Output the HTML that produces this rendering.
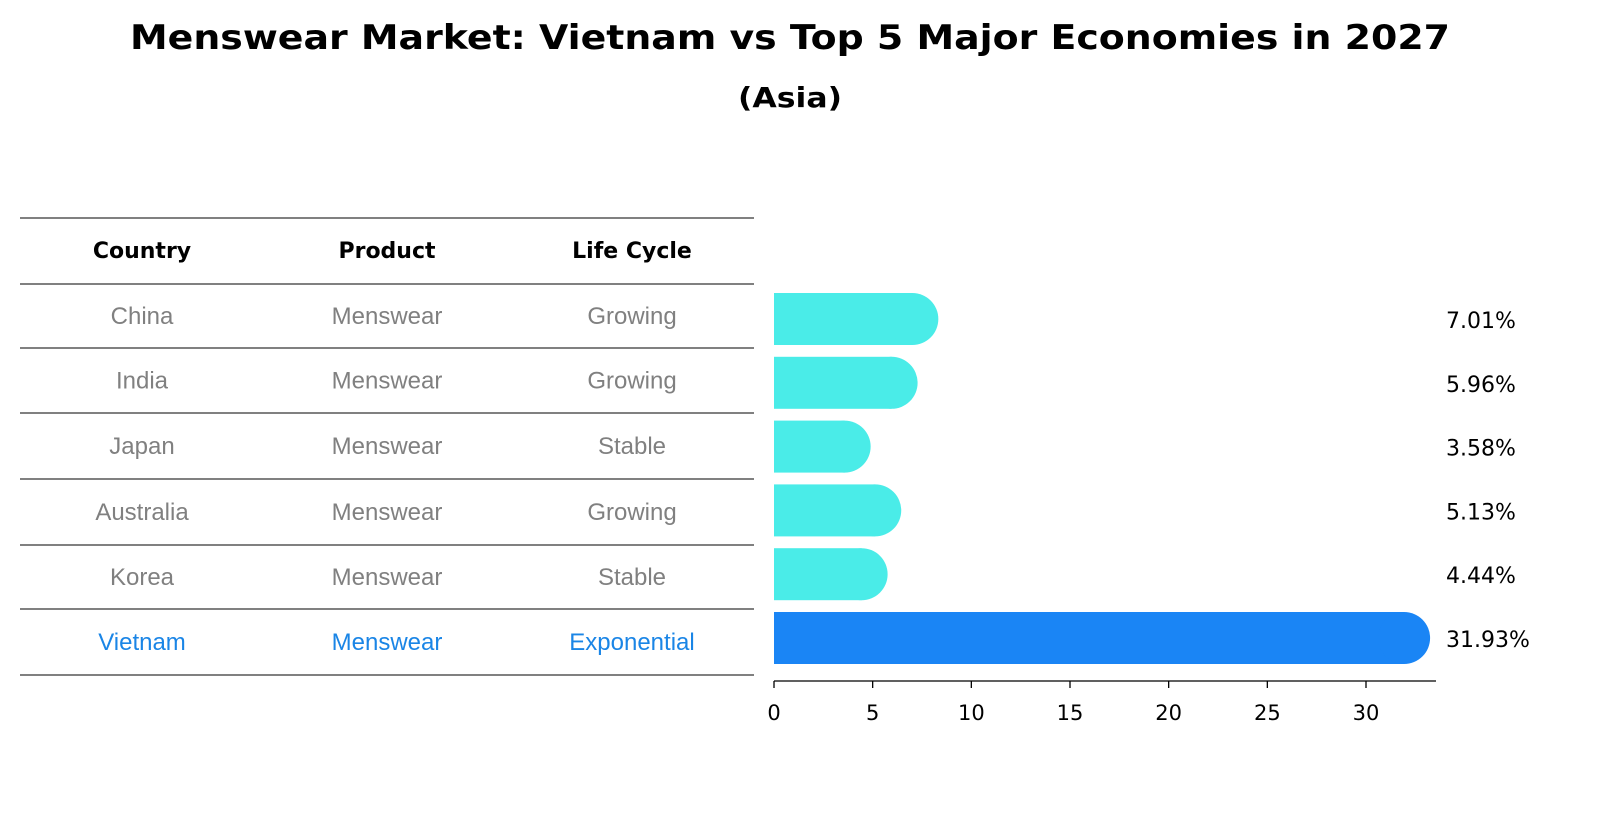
<!DOCTYPE html>
<html><head><meta charset="utf-8"><style>
body{margin:0;background:#fff;font-family:"Liberation Sans","DejaVu Sans",sans-serif}
</style></head><body>
<svg width="1604" height="823" xmlns="http://www.w3.org/2000/svg" font-family="DejaVu Sans, Liberation Sans, sans-serif">
<text x="790" y="49" text-anchor="middle" font-size="34" font-weight="bold" textLength="1320" lengthAdjust="spacingAndGlyphs">Menswear Market: Vietnam vs Top 5 Major Economies in 2027</text>
<text x="790" y="107" text-anchor="middle" font-size="28" font-weight="bold" textLength="104" lengthAdjust="spacingAndGlyphs">(Asia)</text>
<g id="table"></g>
<g id="bars"></g>
<g id="axis"></g>
</svg>
<script>
const countries=["China","India","Japan","Australia","Korea","Vietnam"];
const products=["Menswear","Menswear","Menswear","Menswear","Menswear","Menswear"];
const lifecycles=["Growing","Growing","Stable","Growing","Stable","Exponential"];
const values=[7.01,5.96,3.58,5.13,4.44,31.93];
const tickVals=[0,5,10,15,20,25,30];
const NS="http://www.w3.org/2000/svg";
function mk(t,a,p){const e=document.createElementNS(NS,t);for(const k in a)e.setAttribute(k,a[k]);p.appendChild(e);return e;}
const x0=774,pxPer=592/30;
function xs(v){return x0+v*pxPer;}
const rowY0=319,rowStep=63.8,barH=52;
function ys(i){return rowY0+i*rowStep;}
const tb=document.getElementById('table');
const lines=[218,284,348,413,479,545,609,675];
lines.forEach((y,i)=>{const l=mk('line',{x1:20,x2:754,y1:y,y2:y,stroke:'#000','stroke-width':1},tb);

});
const colX=[142,387,632];
["Country","Product","Life Cycle"].forEach((h,j)=>{const t=mk('text',{x:colX[j],y:258,'text-anchor':'middle','font-size':22,'font-weight':'bold'},tb);t.textContent=h;

});
countries.forEach((c,i)=>{const hl=i===countries.length-1;const col=hl?'#1a85e6':'#808080';
[c,products[i],lifecycles[i]].forEach((s,j)=>{const t=mk('text',{x:colX[j],y:(lines[i+1]+lines[i+2])/2+8,'text-anchor':'middle','font-size':24,fill:col,'font-family':'Liberation Sans, DejaVu Sans, sans-serif'},tb);t.textContent=s;

});});
const bg=document.getElementById('bars');
values.forEach((v,i)=>{const hl=i===values.length-1;const col=hl?'#1a85f5':'#4aece8';const cy=ys(i);
const g=mk('g',{},bg);


mk('rect',{x:x0,y:cy-barH/2,width:xs(v)-x0,height:barH,fill:col},g);
mk('circle',{cx:xs(v),cy:cy,r:barH/2,fill:col},g);
const t=mk('text',{x:1446,y:cy+9,'font-size':22},bg);t.textContent=v.toFixed(2)+'%';

});
const ax=document.getElementById('axis');
mk('line',{x1:x0,x2:1436,y1:681,y2:681,stroke:'#000','stroke-width':1.3},ax);
tickVals.forEach(v=>{mk('line',{x1:xs(v),x2:xs(v),y1:681,y2:688,stroke:'#000','stroke-width':1.3},ax);
const t=mk('text',{x:xs(v),y:720,'text-anchor':'middle','font-size':21},ax);t.textContent=v;

});
</script>
</body></html>
